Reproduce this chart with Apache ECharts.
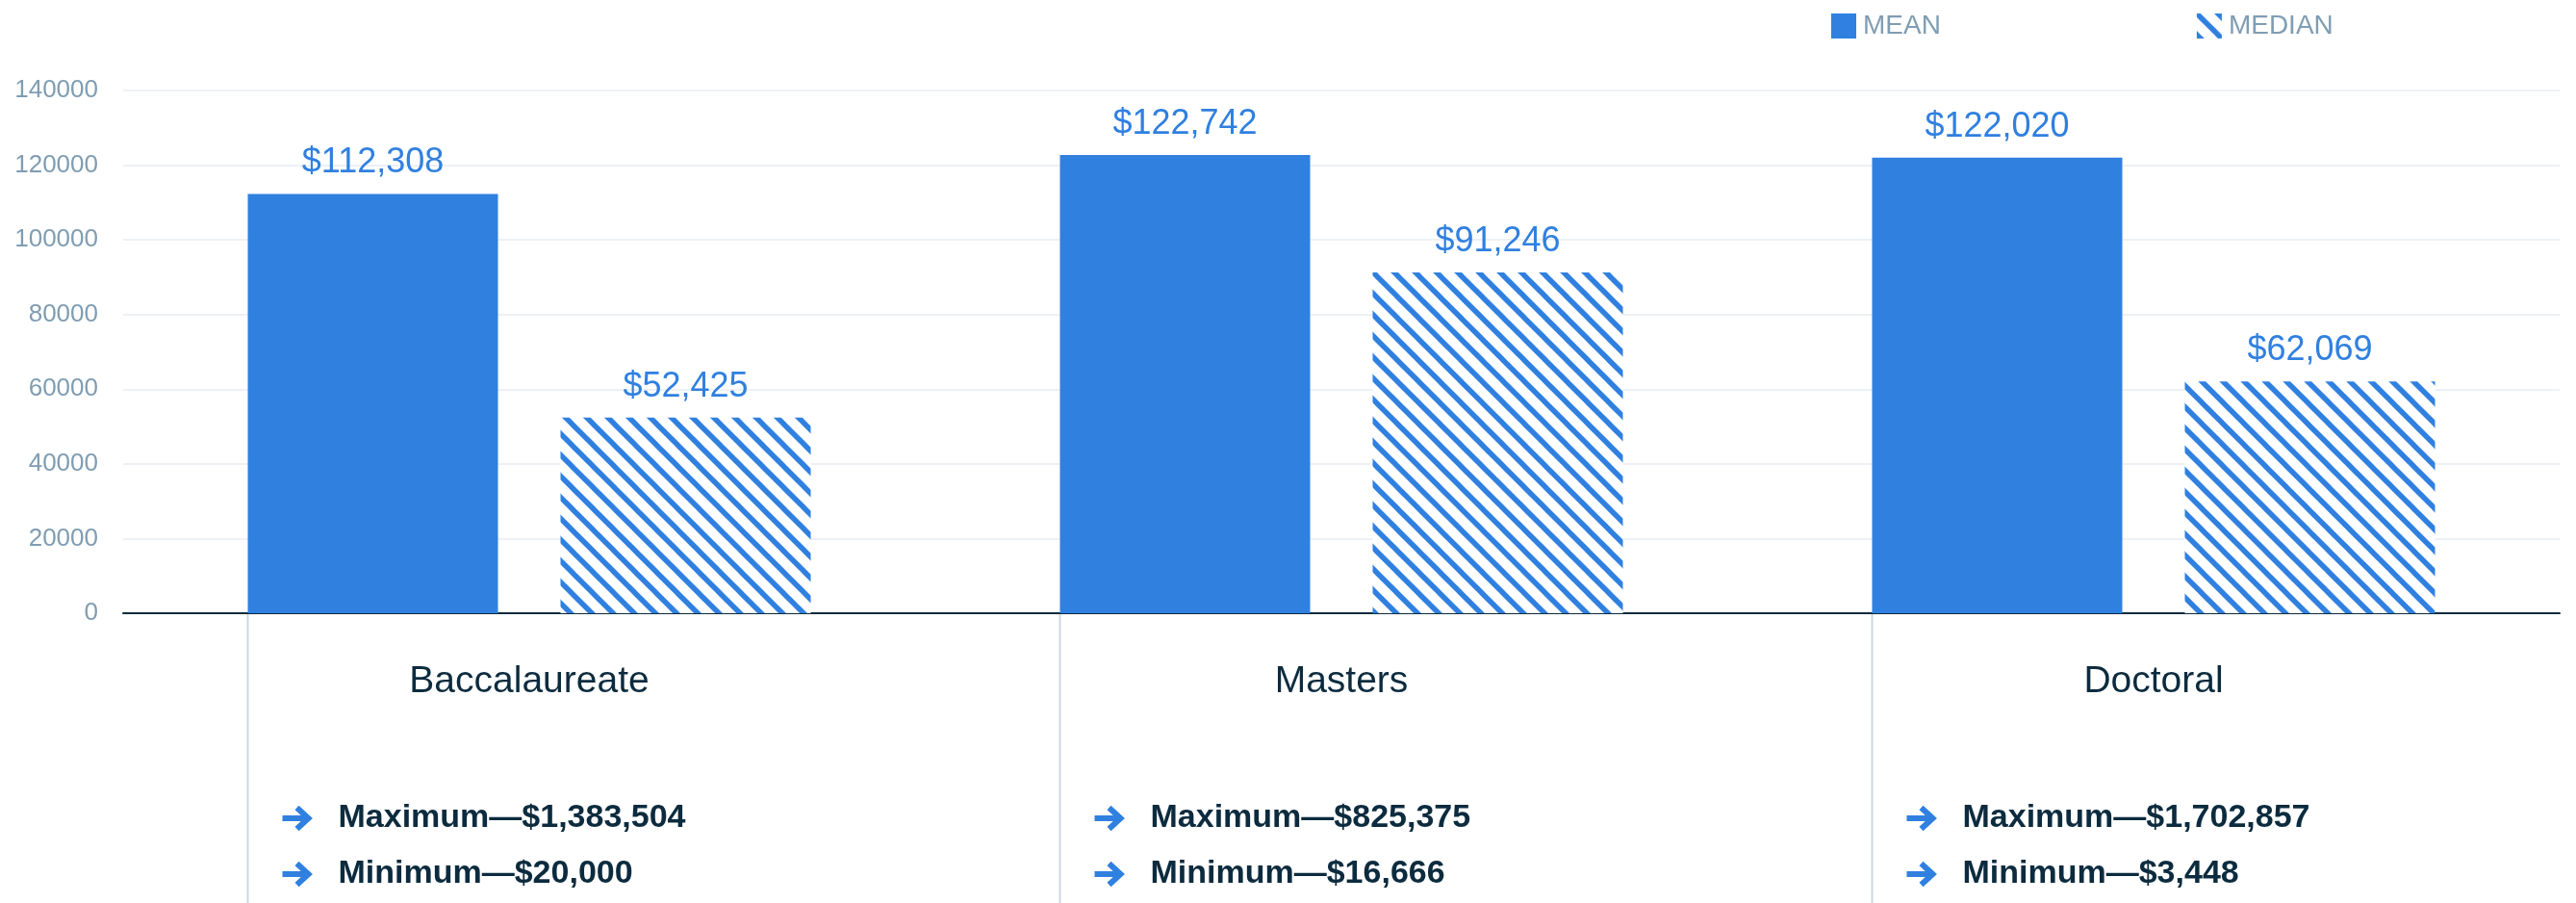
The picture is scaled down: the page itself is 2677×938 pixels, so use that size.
<!DOCTYPE html>
<html>
<head>
<meta charset="utf-8">
<title>Salary by degree level</title>
<script src="https://cdn.jsdelivr.net/npm/echarts@6/dist/echarts.min.js"></script>
<style>
  html, body { margin: 0; padding: 0; background: #ffffff; }
  #chart { width: 2677px; height: 938px; }
</style>
</head>
<body>
<div id="chart"></div>
<script>
// Degree levels and their salary figures
const categories = ['Baccalaureate', 'Masters', 'Doctoral'];
const meanValues = [112308, 122742, 122020];
const medianValues = [52425, 91246, 62069];
const maxValues = [1383504, 825375, 1702857];
const minValues = [20000, 16666, 3448];
const yTicks = { min: 0, max: 140000, interval: 20000 };

const BLUE = '#3080e0';
const NAVY = '#0c2b3e';
const MUTED = '#7f9db2';
const FONT = '"Liberation Sans", Arial, sans-serif';
const BAR_WIDTH = 260;
const BAR_GAP = 0.25;

const money = v => '$' + v.toLocaleString('en-US');

// Diagonal hatch used for the median bars
function hatchPattern() {
  const size = 22;
  const c = document.createElement('canvas');
  c.width = size; c.height = size;
  const ctx = c.getContext('2d');
  ctx.fillStyle = '#ffffff';
  ctx.fillRect(0, 0, size, size);
  ctx.strokeStyle = BLUE;
  ctx.lineWidth = 5.5;
  for (const k of [-size, 0, size]) {
    ctx.beginPath();
    ctx.moveTo(k - 2, -2);
    ctx.lineTo(k + size + 2, size + 2);
    ctx.stroke();
  }
  return c;
}

const chart = echarts.init(document.getElementById('chart'), null, { renderer: 'canvas' });

const valueLabel = {
  show: true,
  position: 'top',
  distance: 14,
  color: BLUE,
  fontFamily: FONT,
  fontSize: 36,
  formatter: p => money(p.value)
};

chart.setOption({
  animation: false,
  backgroundColor: '#ffffff',
  textStyle: { fontFamily: FONT },
  legend: {
    data: ['MEAN', 'MEDIAN'],
    left: 1898,
    top: 8,
    itemWidth: 26,
    itemHeight: 26,
    itemGap: 266,
    icon: 'rect',
    textStyle: { color: MUTED, fontSize: 28, fontFamily: FONT, padding: [0, 0, 0, 2] }
  },
  grid: { left: 128, right: 17, top: 94, bottom: 301 },
  xAxis: {
    type: 'category',
    data: categories,
    axisLine: { lineStyle: { color: NAVY, width: 2 } },
    axisTick: { show: false },
    axisLabel: { color: NAVY, fontSize: 39, fontFamily: FONT, margin: 52 }
  },
  yAxis: {
    type: 'value',
    min: yTicks.min,
    max: yTicks.max,
    interval: yTicks.interval,
    axisLine: { show: false },
    axisTick: { show: false },
    axisLabel: { color: MUTED, fontSize: 26, fontFamily: FONT, margin: 26, formatter: v => String(v) },
    splitLine: { lineStyle: { color: '#edf1f5', width: 2 } }
  },
  series: [
    {
      name: 'MEAN',
      type: 'bar',
      data: meanValues,
      barWidth: BAR_WIDTH,
      barGap: (BAR_GAP * 100) + '%',
      itemStyle: { color: BLUE },
      label: valueLabel
    },
    {
      name: 'MEDIAN',
      type: 'bar',
      data: medianValues,
      barWidth: BAR_WIDTH,
      barGap: (BAR_GAP * 100) + '%',
      itemStyle: { color: { image: hatchPattern(), repeat: 'repeat' } },
      label: valueLabel
    }
  ]
});

// Divider lines and the max / min notes under each degree level
function arrow(x, y) {
  return {
    type: 'group',
    x: x, y: y,
    children: [
      { type: 'line', shape: { x1: 0, y1: 0, x2: 26, y2: 0 },
        style: { stroke: BLUE, lineWidth: 6 } },
      { type: 'polyline', shape: { points: [[15, -11], [27, 0], [15, 11]] },
        style: { stroke: BLUE, lineWidth: 6, fill: null, lineJoin: 'miter' } }
    ]
  };
}

function buildNotes() {
  const axisY = chart.convertToPixel({ yAxisIndex: 0 }, 0);
  const elements = [];
  categories.forEach((cat, i) => {
    const cx = chart.convertToPixel({ xAxisIndex: 0 }, cat);
    const left = cx - (BAR_WIDTH * (2 + BAR_GAP)) / 2;
    elements.push({
      type: 'line',
      shape: { x1: left, y1: axisY + 1, x2: left, y2: 938 },
      style: { stroke: '#cdd8e1', lineWidth: 2 },
      z: 0
    });
    const rows = [
      'Maximum\u2014' + money(maxValues[i]),
      'Minimum\u2014' + money(minValues[i])
    ];
    rows.forEach((t, r) => {
      const y = 850 + r * 58;
      elements.push(arrow(left + 36, y));
      elements.push({
        type: 'text',
        x: left + 94,
        y: y,
        style: {
          text: t,
          fill: NAVY,
          font: 'bold 34px ' + FONT,
          textVerticalAlign: 'middle',
          verticalAlign: 'middle'
        }
      });
    });
  });
  chart.setOption({ graphic: elements });
}
buildNotes();
</script>
</body>
</html>
